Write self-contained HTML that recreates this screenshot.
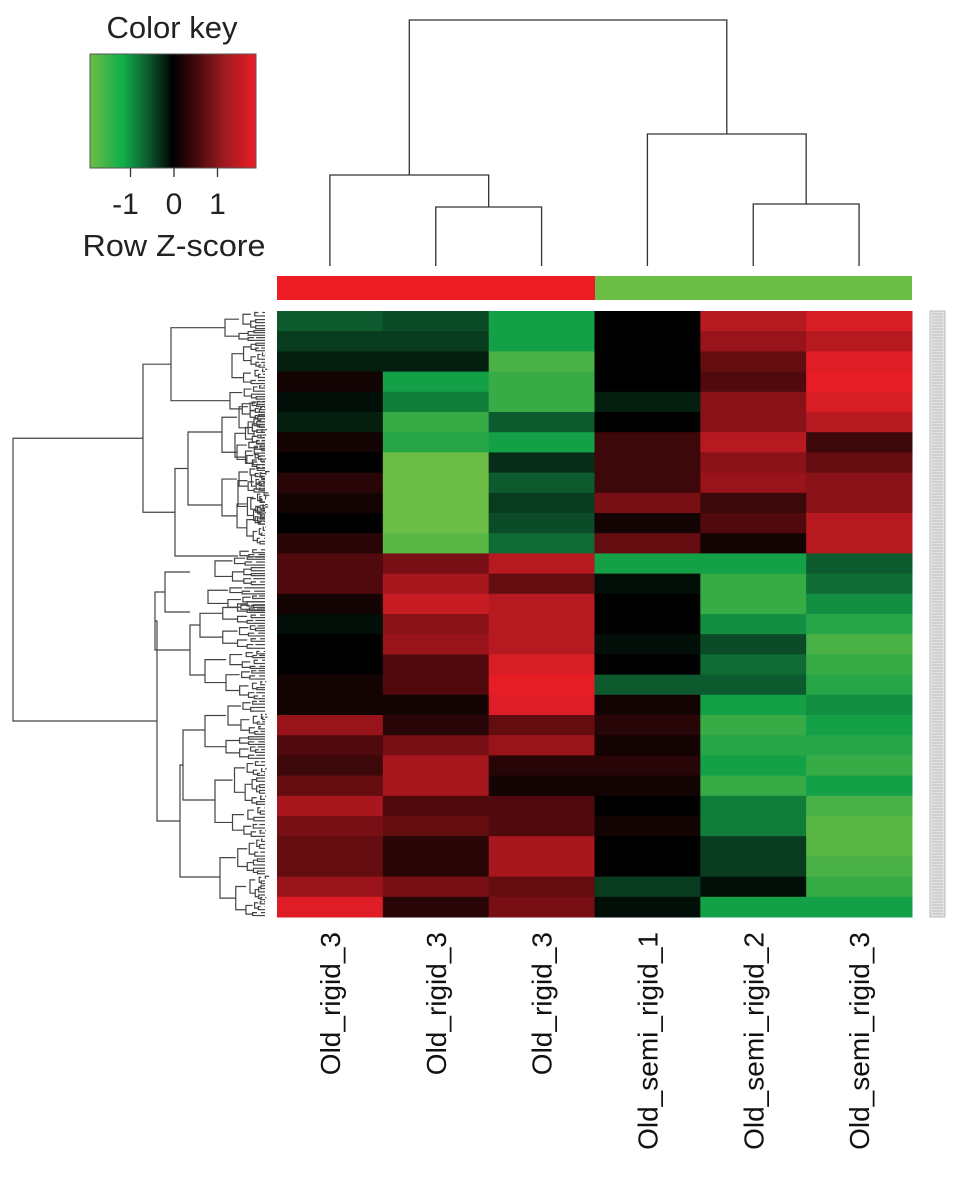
<!DOCTYPE html>
<html><head><meta charset="utf-8"><style>
html,body{margin:0;padding:0;background:#fff;}
svg{display:block;font-family:"Liberation Sans",Arial,sans-serif;}
</style></head><body>
<svg id="chart" width="969" height="1198" viewBox="0 0 969 1198" xmlns="http://www.w3.org/2000/svg">
<defs>
<linearGradient id="keygrad" x1="0" x2="1" y1="0" y2="0">
<stop offset="0" stop-color="#6cbd45"/><stop offset="0.2" stop-color="#0fae4b"/><stop offset="0.35" stop-color="#0d5a2f"/><stop offset="0.5" stop-color="#000"/><stop offset="0.65" stop-color="#4a0a0c"/><stop offset="0.8" stop-color="#9a1a20"/><stop offset="1" stop-color="#ee1c25"/>
</linearGradient>
</defs>
<g>
<text x="172" y="38" font-size="31" text-anchor="middle" fill="#222">Color key</text>
<rect x="90" y="54" width="166" height="114" fill="url(#keygrad)" stroke="#555" stroke-width="1"/>
<g id="keyticks"></g>
<text x="174" y="256" font-size="31" text-anchor="middle" fill="#222" textLength="183" lengthAdjust="spacingAndGlyphs">Row Z-score</text>
</g>
<g id="coldend" stroke="#333" stroke-width="1.3" fill="none"></g>
<rect x="277" y="276" width="318" height="24" fill="#ee1c25"/>
<rect x="595" y="276" width="317" height="24" fill="#6cbd45"/>
<g id="rowdend" stroke="#444" stroke-width="1.2" fill="none"></g>
<g id="cells"></g>
<g>
<rect x="930" y="311" width="15" height="606" fill="#e2e2e2" stroke="#bbb" stroke-width="1"/>
<g id="rowlab" stroke="#999" stroke-width="0.5"></g>
</g>
<g id="collabels"></g>
</svg>
<script>
const samples = ["Old_rigid_3","Old_rigid_3","Old_rigid_3","Old_semi_rigid_1","Old_semi_rigid_2","Old_semi_rigid_3"];
const keyTicks = [-1,0,1];
const z1 = [-0.6,-0.4,-0.2,0.1,-0.1,-0.2,0.1,0,0.2,0.1,0,0.2,0.4,0.4,0.1,-0.1,0,0,0.1,0.1,0.8,0.4,0.3,0.5,0.9,0.6,0.5,0.5,0.8,1.3];
const z2 = [-0.5,-0.4,-0.2,-1,-0.8,-1.2,-1.1,-1.5,-1.5,-1.5,-1.5,-1.4,0.6,0.9,1.1,0.7,0.8,0.4,0.4,0.1,0.2,0.6,0.9,0.9,0.4,0.5,0.2,0.2,0.6,0.2];
const z3 = [-1,-1,-1.3,-1.2,-1.2,-0.6,-1,-0.3,-0.6,-0.4,-0.5,-0.7,1,0.5,1,1,1,1.2,1.4,1.3,0.5,0.8,0.2,0.1,0.4,0.4,0.9,0.9,0.5,0.6];
const z4 = [0,0,0,0,-0.2,0,0.3,0.3,0.3,0.6,0.1,0.5,-1,-0.1,0,0,-0.1,0,-0.6,0.1,0.2,0.1,0.2,0.1,0,0.1,0,0,-0.4,-0.1];
const z5 = [1,0.8,0.5,0.4,0.7,0.7,1,0.7,0.8,0.3,0.4,0.1,-1,-1.2,-1.2,-0.9,-0.5,-0.7,-0.6,-1,-1.2,-1.1,-1,-1.2,-0.8,-0.8,-0.4,-0.4,-0.1,-1];
const z6 = [1.2,1,1.3,1.4,1.2,1,0.3,0.5,0.7,0.7,1,1,-0.6,-0.7,-0.9,-1.1,-1.3,-1.2,-1.1,-0.9,-1,-1.1,-1.2,-1,-1.3,-1.4,-1.4,-1.3,-1.2,-1];
const series = [z1,z2,z3,z4,z5,z6];

const NS="http://www.w3.org/2000/svg";
const X0=277,X1=912,Y0=311,Y1=917;
const nRows=z1.length, nCols=samples.length;
const cw=(X1-X0)/nCols, rh=(Y1-Y0)/nRows;
const xCol=i=>X0+cw*i, yRow=j=>Y0+rh*j;
const keyX=v=>174+v*43.5;
function lerp(a,b,t){return a.map((v,i)=>Math.round(v+(b[i]-v)*t));}
function color(v){
  const stopsN=[[0,[0,0,0]],[0.6,[13,90,47]],[1,[20,160,70]],[1.5,[108,189,69]]];
  const stopsP=[[0,[0,0,0]],[0.6,[120,15,20]],[1.2,[215,30,38]],[1.5,[238,28,37]]];
  const s=v<0?stopsN:stopsP; const a=Math.min(1.5,Math.abs(v));
  for(let k=1;k<s.length;k++){if(a<=s[k][0]){const t=(a-s[k-1][0])/(s[k][0]-s[k-1][0]);return 'rgb('+lerp(s[k-1][1],s[k][1],t).join(',')+')';}}
  return 'rgb('+s[s.length-1][1].join(',')+')';
}
const cells=document.getElementById('cells');
series.forEach((col,i)=>{col.forEach((v,j)=>{
  const r=document.createElementNS(NS,'rect');
  r.setAttribute('x',xCol(i));r.setAttribute('y',yRow(j));
  r.setAttribute('width',cw+0.5);r.setAttribute('height',rh+0.5);
  r.setAttribute('fill',color(v));
  
  
  cells.appendChild(r);
});});
const kt=document.getElementById('keyticks');
keyTicks.forEach(v=>{
  const l=document.createElementNS(NS,'line');
  l.setAttribute('x1',keyX(v));l.setAttribute('x2',keyX(v));l.setAttribute('y1',168);l.setAttribute('y2',177);
  l.setAttribute('stroke','#333');l.setAttribute('stroke-width','1.3');
  
  
  kt.appendChild(l);
  const t=document.createElementNS(NS,'text');
  t.setAttribute('x',keyX(v)+(v<0?-5:0));t.setAttribute('y',214);t.setAttribute('font-size','30');t.setAttribute('text-anchor','middle');t.setAttribute('fill','#222');
  t.textContent=String(v);
  
  
  kt.appendChild(t);
});
const cl=document.getElementById('collabels');
samples.forEach((s,i)=>{
  const cx=xCol(i)+cw/2+10;
  const t=document.createElementNS(NS,'text');
  t.setAttribute('transform','translate('+cx+',932) rotate(-90)');
  t.setAttribute('text-anchor','end');t.setAttribute('font-size','28');t.setAttribute('fill','#111');
  t.textContent=s;
  
  
  cl.appendChild(t);
});
function path(g,d,name){const p=document.createElementNS(NS,'path');p.setAttribute('d',d);
  
  
  g.appendChild(p);}
const cd=document.getElementById('coldend');
const cx=i=>xCol(i)+cw/2, leafY=266;
const m23=(cx(1)+cx(2))/2, m56=(cx(4)+cx(5))/2, mA=(cx(0)+m23)/2, mB=(cx(3)+m56)/2;
path(cd,`M${cx(1)} ${leafY}V207H${cx(2)}V${leafY}`,'dendro-branch');
path(cd,`M${cx(0)} ${leafY}V175H${m23}V207`,'dendro-branch');
path(cd,`M${cx(4)} ${leafY}V204H${cx(5)}V${leafY}`,'dendro-branch');
path(cd,`M${cx(3)} ${leafY}V134H${m56}V204`,'dendro-branch');
path(cd,`M${mA} 175V20H${mB}V134`,'dendro-branch');
const rd=document.getElementById('rowdend');
const LX=265;
function sub(y0,y1,x,depth){
  if(y1-y0<4||depth>7){path(rd,`M${x} ${(y0+y1)/2}H${LX}`,'dendro-leaf');return (y0+y1)/2;}
  const f=0.35+((depth*37+Math.round(y0))%30)/100;
  const ym=y0+(y1-y0)*f;
  const xs=x+(LX-x)*0.35;
  const a=sub(y0,ym,xs+((Math.round(y0)%3)*2),depth+1), b=sub(ym,y1,xs,depth+1);
  path(rd,`M${xs} ${a}H${x}V${b}H${xs}`,'dendro-branch');
  return (a+b)/2;
}
function node(x,a,b){path(rd,`M${a[0]} ${a[1]}H${x}V${b[1]}H${b[0]}`,'dendro-branch');return [x,(a[1]+b[1])/2];}
function clus(y0,y1,x){const m=sub(y0,y1,x,2);return [x,m];}
const t1=clus(311,342,225), t2=clus(342,385,232);
const nA=node(171,t1,clus(385,420,230));
const t3=clus(420,470,235), t4=clus(470,525,238);
const nB1=node(188,[222,432],[222,505]);
clus(400,466,222); clus(466,545,222);
const nB=node(175,[188,nB1[1]],[238,556]);
clus(548,558,240);
const nTop=node(143,nA,nB);
const c1=clus(556,586,215), c2=clus(586,612,208);
const nC=node(165,[190,572],[190,612]);
clus(600,650,200); clus(650,700,205);
const nD=node(190,[200,625],[205,675]);
const nC2=node(155,[165,592],[190,nD[1]]);
const e1=clus(700,760,205), e2=clus(760,838,215), e3=clus(838,917,220);
const nE=node(183,[205,730],[215,800]);
const nF=node(180,[183,765],[220,877]);
const nBot=node(157,[155,nC2[1]],[180,nF[1]]);
node(13,nTop,[157,nBot[1]]);
const rl=document.getElementById('rowlab');
for(let y=314;y<915;y+=3){const l=document.createElementNS(NS,'line');l.setAttribute('x1',932);l.setAttribute('x2',943);l.setAttribute('y1',y);l.setAttribute('y2',y);


rl.appendChild(l);}
</script>
</body></html>
